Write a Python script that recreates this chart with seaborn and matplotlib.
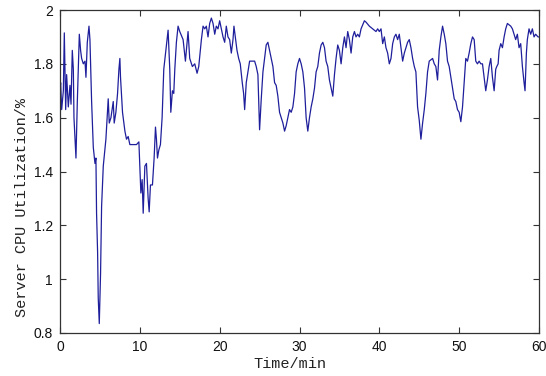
import matplotlib
matplotlib.use("Agg")
import matplotlib.pyplot as plt
import seaborn as sns
import pandas as pd
from matplotlib.ticker import FixedLocator, FuncFormatter

# ---- data ----
minutes = [
    0.00, 0.08, 0.21, 0.42, 0.54, 0.71, 0.83, 1.04, 1.25, 1.38, 1.54, 1.67, 1.75,
    2.00, 2.17, 2.42, 2.58, 2.71, 2.92, 3.13, 3.25, 3.42, 3.63, 3.75, 3.96,
    4.17, 4.38, 4.50, 4.58, 4.71, 4.79, 4.92, 5.08, 5.21, 5.42, 5.75, 6.04,
    6.17, 6.38, 6.67, 6.79, 7.00, 7.21, 7.38, 7.50, 7.58, 7.83, 8.13, 8.33,
    8.54, 8.75, 8.96, 9.17, 9.38, 9.58, 9.88, 10.00, 10.13, 10.29, 10.42,
    10.63, 10.83, 11.04, 11.17, 11.33, 11.58, 11.79, 11.96, 12.08, 12.21,
    12.38, 12.58, 12.79, 13.00, 13.33, 13.54, 13.75, 13.88, 14.08, 14.25,
    14.38, 14.58, 14.79,
    15.00, 15.42, 15.71, 16.04, 16.25, 16.58, 16.88, 17.17, 17.38, 17.71,
    17.92, 18.13, 18.33, 18.54, 18.75, 18.96, 19.17, 19.38, 19.58, 19.79,
    20.00, 20.21, 20.42, 20.63, 20.83, 21.04, 21.25, 21.46, 21.67, 21.79,
    22.00, 22.17, 22.38, 22.58, 22.83, 23.00, 23.13, 23.33, 23.54, 23.75,
    23.96, 24.17, 24.38, 24.58, 24.79, 25.00, 25.21, 25.42, 25.63, 25.83,
    26.04, 26.25, 26.46, 26.67, 26.88, 27.08, 27.29, 27.50, 27.71, 27.92,
    28.13, 28.33, 28.54, 28.75, 28.96, 29.17, 29.38, 29.58, 29.79, 30.00,
    30.21, 30.42, 30.63, 30.83, 31.04, 31.25, 31.46, 31.67, 31.88, 32.08,
    32.29, 32.50, 32.71, 32.92, 33.13, 33.33, 33.54, 33.75, 33.96, 34.17,
    34.38, 34.58, 34.79, 35.00, 35.21, 35.42, 35.63, 35.83, 36.04, 36.25,
    36.46, 36.67, 36.88, 37.08, 37.29, 37.50, 37.71, 37.92, 38.13, 38.33,
    38.75,
    39.17, 39.58, 39.79, 40.00, 40.21, 40.42, 40.63, 40.83, 41.04, 41.25,
    41.46, 41.67, 41.88, 42.08, 42.29, 42.50, 42.71, 42.92, 43.13, 43.33,
    43.54, 43.75, 43.96, 44.17, 44.38, 44.58, 44.79, 45.00, 45.21, 45.42,
    45.63, 45.83, 46.04, 46.25, 46.46, 46.67, 46.88, 47.08, 47.29, 47.50,
    47.71, 47.92, 48.13, 48.33, 48.54, 48.75, 48.96, 49.17, 49.38, 49.58,
    49.79, 50.00, 50.21, 50.42, 50.63, 50.83, 51.04, 51.25, 51.46, 51.67,
    51.88, 52.08, 52.29, 52.50, 52.71, 52.92, 53.13, 53.33, 53.54, 53.75,
    53.96, 54.17, 54.38, 54.58, 54.71, 54.88, 55.00, 55.21, 55.42, 55.63,
    55.83, 56.04, 56.25, 56.46, 56.67, 56.88, 57.08, 57.29, 57.50, 57.71,
    57.92, 58.13, 58.25, 58.42, 58.54, 58.75, 58.96, 59.17, 59.38, 59.58,
    59.88, 60.00,
]

cpu_util = [
    1.70, 1.73, 1.63, 1.70, 1.915, 1.63, 1.76, 1.64, 1.72, 1.65, 1.85, 1.78, 1.60,
    1.45, 1.66, 1.91, 1.85, 1.82, 1.80, 1.81, 1.75, 1.88, 1.94, 1.89, 1.66,
    1.49, 1.43, 1.45, 1.245, 1.10, 0.93, 0.835, 1.02, 1.27, 1.42, 1.52, 1.67,
    1.58, 1.60, 1.66, 1.58, 1.62, 1.69, 1.78, 1.82, 1.75, 1.62, 1.55, 1.52,
    1.53, 1.50, 1.50, 1.50, 1.50, 1.50, 1.51, 1.42, 1.32, 1.37, 1.245,
    1.42, 1.43, 1.30, 1.25, 1.35, 1.35, 1.45, 1.565, 1.52, 1.45,
    1.48, 1.50, 1.60, 1.78, 1.87, 1.925, 1.78, 1.62, 1.70, 1.69,
    1.78, 1.88, 1.94,
    1.92, 1.89, 1.81, 1.92, 1.82, 1.79, 1.80, 1.765, 1.79, 1.89,
    1.94, 1.93, 1.94, 1.90, 1.95, 1.97, 1.95, 1.91, 1.94, 1.93,
    1.96, 1.93, 1.90, 1.88, 1.94, 1.90, 1.89, 1.84, 1.89, 1.94,
    1.89, 1.85, 1.82, 1.80, 1.73, 1.69, 1.63, 1.73, 1.77, 1.81,
    1.81, 1.81, 1.81, 1.79, 1.76, 1.555, 1.67, 1.77, 1.82, 1.87,
    1.88, 1.85, 1.82, 1.79, 1.73, 1.72, 1.68, 1.62, 1.60, 1.58,
    1.55, 1.57, 1.60, 1.63, 1.62, 1.64, 1.69, 1.77, 1.80, 1.82,
    1.80, 1.77, 1.71, 1.60, 1.55, 1.60, 1.64, 1.67, 1.71, 1.77,
    1.79, 1.84, 1.87, 1.88, 1.86, 1.81, 1.79, 1.74, 1.71, 1.68,
    1.76, 1.82, 1.87, 1.85, 1.80, 1.86, 1.90, 1.86, 1.92, 1.89,
    1.84, 1.90, 1.92, 1.90, 1.91, 1.90, 1.93, 1.945, 1.96, 1.955,
    1.94,
    1.93, 1.92, 1.93, 1.92, 1.93, 1.875, 1.90, 1.86, 1.84, 1.80,
    1.82, 1.875, 1.90, 1.91, 1.89, 1.91, 1.86, 1.81, 1.84, 1.86,
    1.88, 1.89, 1.86, 1.82, 1.79, 1.77, 1.64, 1.59, 1.52, 1.58,
    1.63, 1.69, 1.77, 1.81, 1.815, 1.82, 1.80, 1.79, 1.74, 1.85,
    1.90, 1.94, 1.91, 1.875, 1.81, 1.79, 1.75, 1.71, 1.67, 1.66,
    1.63, 1.62, 1.585, 1.64, 1.73, 1.82, 1.81, 1.84, 1.875, 1.90,
    1.89, 1.81, 1.80, 1.81, 1.80, 1.80, 1.75, 1.70, 1.74, 1.79,
    1.82, 1.75, 1.70, 1.78, 1.79, 1.80, 1.85, 1.875, 1.86, 1.90,
    1.93, 1.95, 1.945, 1.94, 1.93, 1.91, 1.89, 1.91, 1.86, 1.875,
    1.79, 1.73, 1.70, 1.84, 1.89, 1.93, 1.91, 1.93, 1.90, 1.91,
    1.90, 1.90,
]

x_ticks = [0, 10, 20, 30, 40, 50, 60]
y_ticks = [0.8, 1.0, 1.2, 1.4, 1.6, 1.8, 2.0]
x_label = "Time/min"
y_label = "Server CPU Utilization/%"

df = pd.DataFrame({"t": minutes, "u": cpu_util})

sns.set_theme(style="ticks")
plt.rcParams["font.family"] = ["Liberation Sans", "DejaVu Sans"]

fig = plt.figure(figsize=(5.46, 3.76), dpi=100)
ax = fig.add_axes([60 / 546, 1 - 333 / 376, 479 / 546, 323 / 376])

sns.lineplot(data=df, x="t", y="u", ax=ax, estimator=None, sort=False,
             color="#1f1f9c", linewidth=0.9)

ax.set_xlim(0, 60)
ax.set_ylim(0.8, 2.0)
ax.xaxis.set_major_locator(FixedLocator(x_ticks))
ax.yaxis.set_major_locator(FixedLocator(y_ticks))
ax.yaxis.set_major_formatter(FuncFormatter(lambda v, p: f"{v:g}"))
ax.xaxis.set_major_formatter(FuncFormatter(lambda v, p: f"{v:g}"))

for s in ax.spines.values():
    s.set_visible(True)
    s.set_color("#333333")
    s.set_linewidth(0.9)

ax.tick_params(axis="both", which="major", direction="in", length=4,
               width=0.8, color="#333333", labelsize=10, labelcolor="#111111",
               top=True, right=True, pad=5)

ax.set_xlabel(x_label, family=["Liberation Mono", "DejaVu Sans Mono"],
              fontsize=11, color="#222222")
ax.set_ylabel(y_label, family=["Liberation Mono", "DejaVu Sans Mono"],
              fontsize=11, color="#222222")
ax.xaxis.set_label_coords(0.48, -0.075)
ax.yaxis.set_label_coords(-0.065, 0.39)

fig.savefig("out.png", dpi=100, facecolor="white")
